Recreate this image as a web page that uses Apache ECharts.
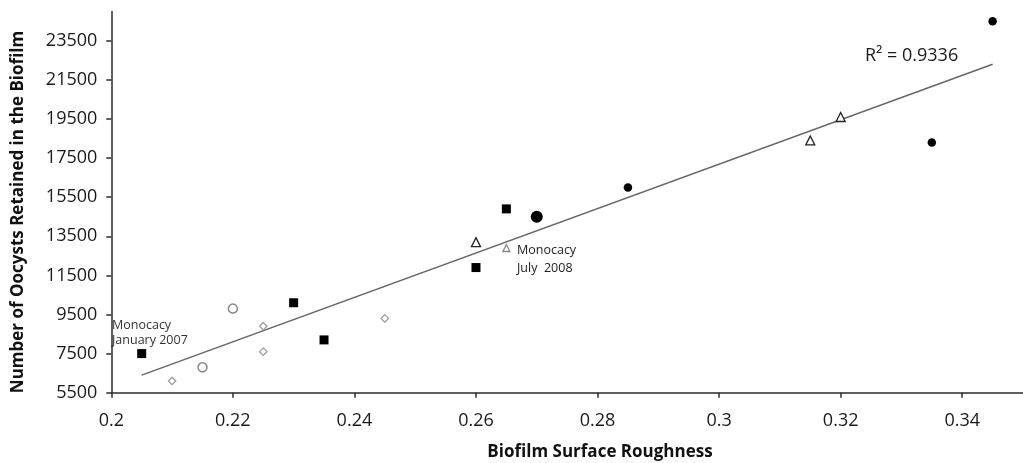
<!DOCTYPE html>
<html>
<head>
<meta charset="utf-8">
<script src="https://cdn.jsdelivr.net/npm/echarts@6/dist/echarts.min.js"></script>
<style>
  html, body { margin: 0; padding: 0; background: #fff; }
  #chart { width: 1023px; height: 463px; }
</style>
</head>
<body>
<div id="chart"></div>
<script>
// tick labels
var xTicks = [0.2, 0.22, 0.24, 0.26, 0.28, 0.3, 0.32, 0.34];
var yTicks = [5500, 7500, 9500, 11500, 13500, 15500, 17500, 19500, 21500, 23500];

// data points, [roughness, oocysts]
var filledSquares = [[0.205, 7500], [0.23, 10100], [0.235, 8200], [0.26, 11900], [0.265, 14900]];
var filledCircles = [[0.27, 14500], [0.285, 16000], [0.335, 18300], [0.345, 24500]];
var openTriangles = [[0.26, 13200], [0.265, 12900], [0.315, 18400], [0.32, 19600]];
var openCircles = [[0.215, 6800], [0.22, 9800]];
var openDiamonds = [[0.21, 6100], [0.225, 7600], [0.225, 8900], [0.245, 9300]];

// linear trend line end points
var trendLine = [[0.205, 6400], [0.345, 22300]];

var myChart = echarts.init(document.getElementById('chart'));

var axisCol = '#2b2b2b';
var font = 'Open Sans';

// big circle and small grey triangle are drawn a bit differently
var circleData = filledCircles.map(function (p, i) {
	return i === 0 ? { value: p, symbolSize: 12 } : p;
});
var triangleData = openTriangles.map(function (p, i) {
	return i === 1 ? { value: p, symbolSize: 7, itemStyle: { borderColor: '#888' } } : p;
});

var option = {
	backgroundColor: '#fff',
	animation: false,
	grid: { left: 111.3, right: -10.8, top: 11.4, bottom: 70.3 },
	xAxis: {
		type: 'value',
		min: 0.2,
		max: 0.35,
		splitLine: { show: false },
		axisLine: { lineStyle: { color: axisCol, width: 1.5 } },
		axisTick: { customValues: xTicks, length: 5, lineStyle: { color: axisCol, width: 1.5 } },
		axisLabel: { customValues: xTicks, margin: 19, color: '#1a1a1a', fontFamily: font, fontSize: 18 }
	},
	yAxis: {
		type: 'value',
		min: 5500,
		max: 25000,
		splitLine: { show: false },
		axisLine: { show: true, lineStyle: { color: axisCol, width: 1.5 } },
		axisTick: { show: true, customValues: yTicks, length: 5, lineStyle: { color: axisCol, width: 1.5 } },
		axisLabel: {
			customValues: yTicks, margin: 14, color: '#1a1a1a', fontFamily: font, fontSize: 18,
			formatter: function (v) { return String(v); }
		}
	},
	graphic: [
		{
			type: 'text', x: 600, y: 452,
			style: { text: 'Biofilm Surface Roughness', fontFamily: font, fontWeight: 'bold', fontSize: 17, fill: '#111', align: 'center', verticalAlign: 'middle' }
		},
		{
			type: 'text', x: 18, y: 212, rotation: Math.PI / 2,
			style: { text: 'Number of Oocysts Retained in the Biofilm', fontFamily: font, fontWeight: 'bold', fontSize: 17, fill: '#111', align: 'center', verticalAlign: 'middle' }
		},
		{
			type: 'text', x: 865, y: 65,
			style: { text: 'R² = 0.9336', fontFamily: font, fontSize: 18, fill: '#1a1a1a', align: 'left', verticalAlign: 'bottom' }
		},
		{
			type: 'text', x: 112, y: 318,
			style: { text: 'Monocacy\nJanuary 2007', fontFamily: font, fontSize: 12.5, lineHeight: 15, fill: '#333', align: 'left', verticalAlign: 'top' }
		},
		{
			type: 'text', x: 517, y: 241,
			style: { text: 'Monocacy\nJuly  2008', fontFamily: font, fontSize: 12.5, lineHeight: 18, fill: '#222', align: 'left', verticalAlign: 'top' }
		}
	],
	series: [
		{
			name: 'trend',
			type: 'line',
			data: trendLine,
			showSymbol: false,
			symbol: 'none',
			lineStyle: { color: '#666', width: 1.5 },
			z: 1
		},
		{
			name: 'squares',
			type: 'scatter',
			symbol: 'rect',
			symbolSize: 9,
			itemStyle: { color: '#000', opacity: 1 },
			data: filledSquares,
			z: 3
		},
		{
			name: 'circles',
			type: 'scatter',
			symbol: 'circle',
			symbolSize: 8.5,
			itemStyle: { color: '#000', opacity: 1 },
			data: circleData,
			z: 3
		},
		{
			name: 'triangles',
			type: 'scatter',
			symbol: 'triangle',
			symbolSize: 9,
			itemStyle: { color: '#fff', borderColor: '#222', borderWidth: 1.3, opacity: 1 },
			data: triangleData,
			z: 3
		},
		{
			name: 'open circles',
			type: 'scatter',
			symbol: 'circle',
			symbolSize: 9,
			itemStyle: { color: '#fff', borderColor: '#888', borderWidth: 1.5, opacity: 1 },
			data: openCircles,
			z: 3
		},
		{
			name: 'diamonds',
			type: 'scatter',
			symbol: 'diamond',
			symbolSize: 7.5,
			itemStyle: { color: '#fff', borderColor: '#999', borderWidth: 1.2, opacity: 1 },
			data: openDiamonds,
			z: 3
		}
	]
};
myChart.setOption(option);
</script>
</body>
</html>
